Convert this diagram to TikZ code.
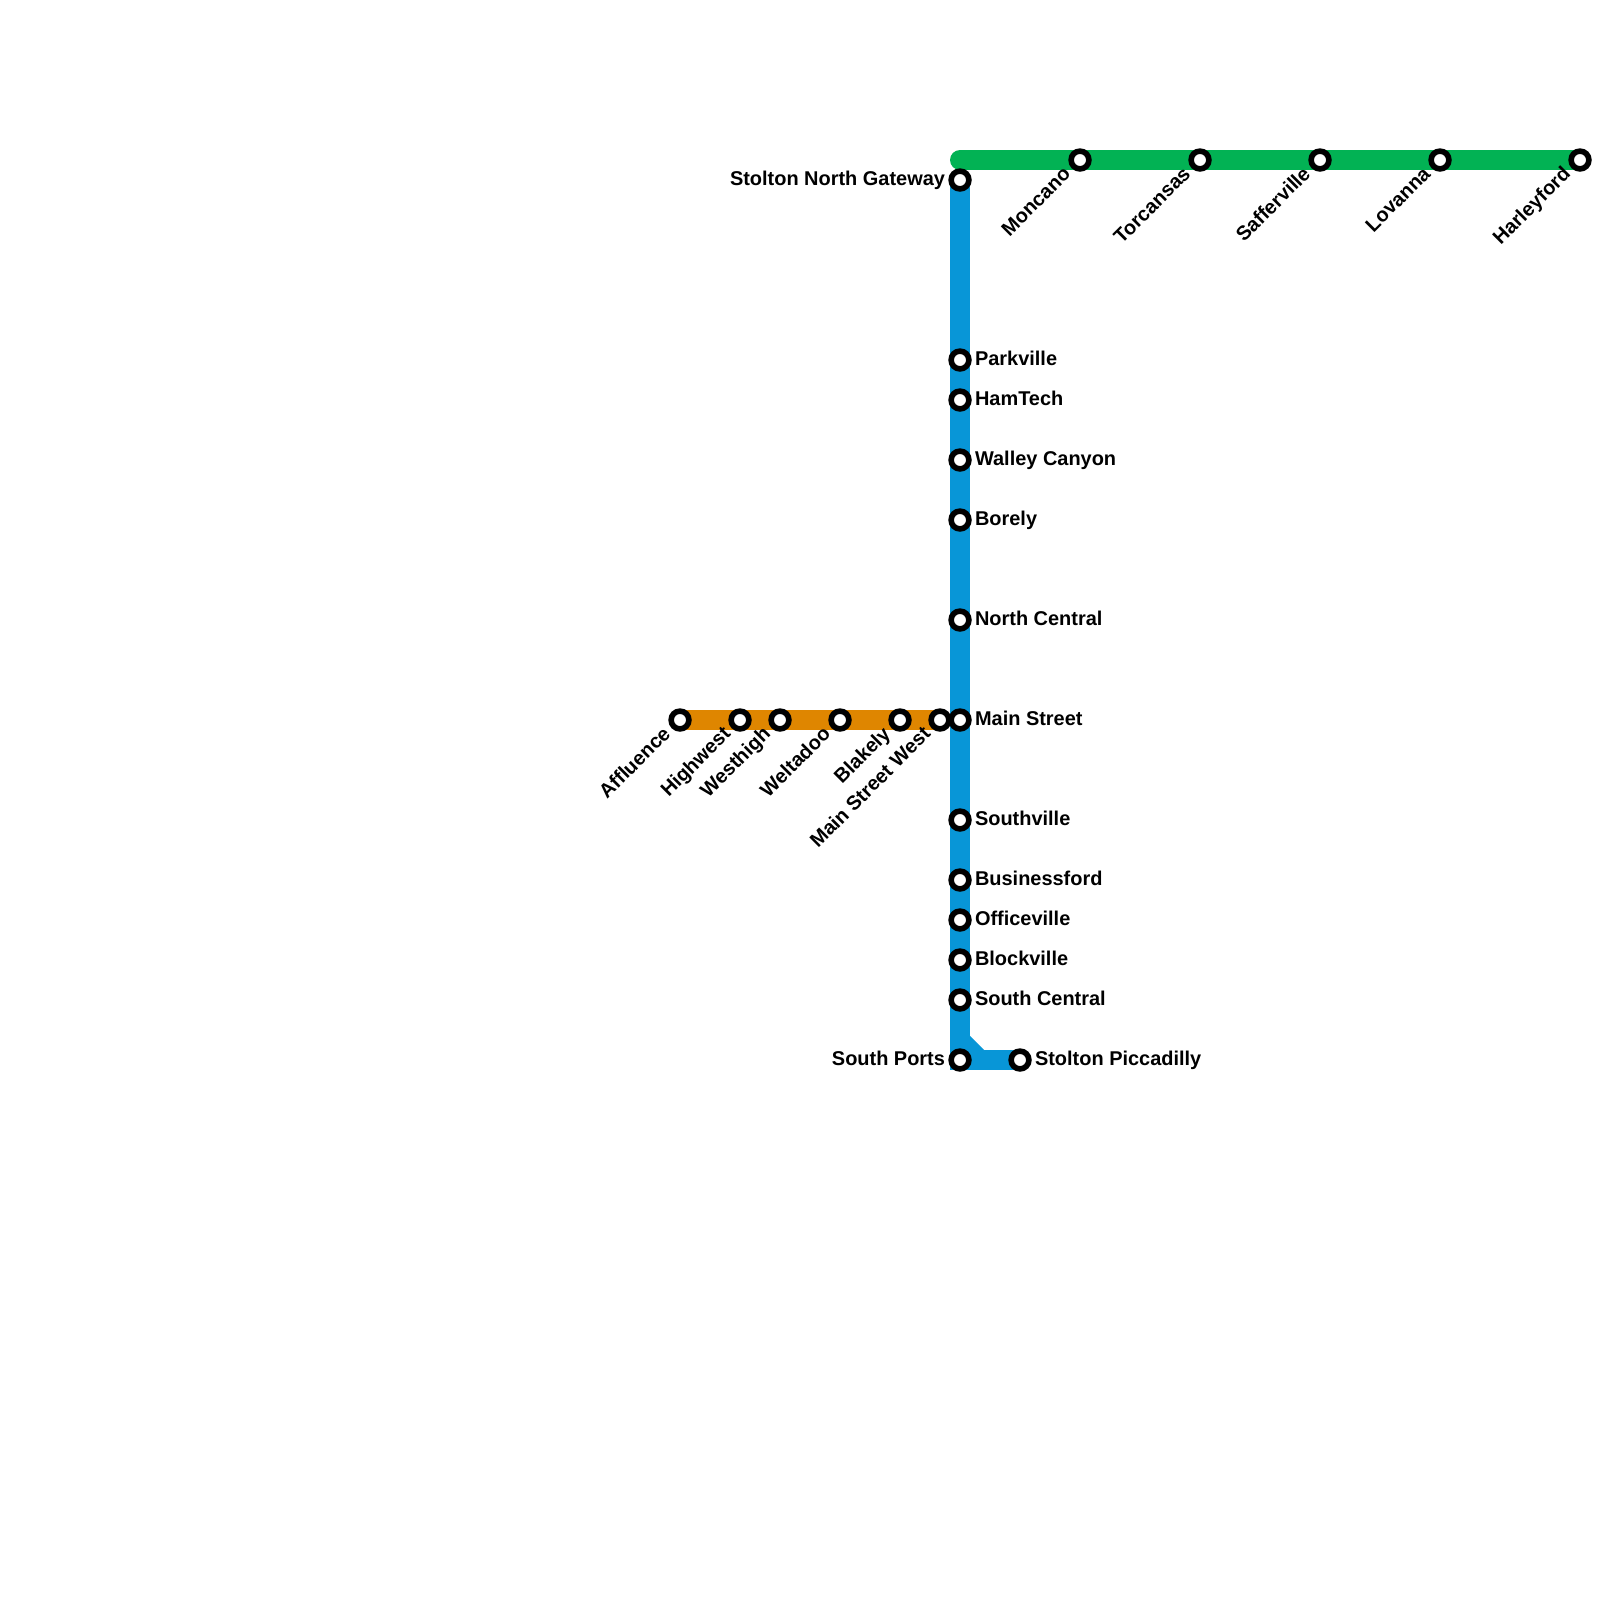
\documentclass[tikz,border=0pt]{standalone}
\usepackage{fontspec}
\setmainfont{Liberation Sans}
\usetikzlibrary{calc, positioning}
\definecolor{lineblue}{HTML}{0896D7}
\definecolor{linegreen}{HTML}{02B254}
\definecolor{lineorange}{HTML}{DF8600}
\pgfdeclarelayer{lines}
\pgfsetlayers{lines,main}
\tikzset{
  station/.style={circle, draw=black, fill=white, line width=0.112cm, minimum size=0.356cm, inner sep=0pt},
  stationname/.style={font=\bfseries\fontsize{11.35}{13}\selectfont, inner sep=0pt, text height=0.29cm, text depth=0.08cm},
  rightname/.style={stationname, anchor=west, xshift=0.06cm},
  leftname/.style={stationname, anchor=east, xshift=-0.06cm},
  slantname/.style={stationname, anchor=east, rotate=45, xshift=-0.095cm, yshift=0.01cm},
  metroline/.style={line width=0.4cm, miter limit=10}
}
\begin{document}
\begin{tikzpicture}[x=0.02cm, y=-0.02cm]
  \useasboundingbox (0,0) rectangle (1600,1600);
  \coordinate (greenstart) at (960,160);
  \coordinate (bendtop) at (960,1040);
  \coordinate (bendend) at (980,1060);

  % stations
  \node[station] (gateway) at (960,180) {};
  \node[station] (parkville) at (960,360) {};
  \node[station] (hamtech) at (960,400) {};
  \node[station] (walley) at (960,460) {};
  \node[station] (borely) at (960,520) {};
  \node[station] (northcentral) at (960,620) {};
  \node[station] (mainstreet) at (960,720) {};
  \node[station] (southville) at (960,820) {};
  \node[station] (businessford) at (960,880) {};
  \node[station] (officeville) at (960,920) {};
  \node[station] (blockville) at (960,960) {};
  \node[station] (southcentral) at (960,1000) {};
  \node[station] (southports) at (960,1060) {};
  \node[station] (piccadilly) at (1020,1060) {};
  \node[station] (moncano) at (1080,160) {};
  \node[station] (torcansas) at (1200,160) {};
  \node[station] (safferville) at (1320,160) {};
  \node[station] (lovanna) at (1440,160) {};
  \node[station] (harleyford) at (1580,160) {};
  \node[station] (affluence) at (680,720) {};
  \node[station] (highwest) at (740,720) {};
  \node[station] (westhigh) at (780,720) {};
  \node[station] (weltadoo) at (840,720) {};
  \node[station] (blakely) at (900,720) {};
  \node[station] (mainwest) at (940,720) {};

  % lines, kept behind the stations
  \begin{pgfonlayer}{lines}
    \draw[metroline, lineorange] (affluence.center) -- (mainwest.center);
    \draw[metroline, linegreen, line cap=round] (greenstart) -- (harleyford.center);
    \draw[metroline, lineblue] (gateway.center) -- (southports.center) -- (piccadilly.center);
    \draw[metroline, lineblue] (bendtop) -- (bendend);
  \end{pgfonlayer}

  % names
  \node[leftname, left=0cm of gateway] (gatewayname) {Stolton North Gateway};
  \node[leftname, left=0cm of southports] (southportsname) {South Ports};
  \node[rightname, right=0cm of parkville] (parkvillename) {Parkville};
  \node[rightname, right=0cm of hamtech] (hamtechname) {HamTech};
  \node[rightname, right=0cm of walley] (walleyname) {Walley Canyon};
  \node[rightname, right=0cm of borely] (borelyname) {Borely};
  \node[rightname, right=0cm of northcentral] (northcentralname) {North Central};
  \node[rightname, right=0cm of mainstreet] (mainstreetname) {Main Street};
  \node[rightname, right=0cm of southville] (southvillename) {Southville};
  \node[rightname, right=0cm of businessford] (businessfordname) {Businessford};
  \node[rightname, right=0cm of officeville] (officevillename) {Officeville};
  \node[rightname, right=0cm of blockville] (blockvillename) {Blockville};
  \node[rightname, right=0cm of southcentral] (southcentralname) {South Central};
  \node[rightname, right=0cm of piccadilly] (piccadillyname) {Stolton Piccadilly};
  \node[slantname] (moncanoname) at (moncano.south west) {Moncano};
  \node[slantname] (torcansasname) at (torcansas.south west) {Torcansas};
  \node[slantname] (saffervillename) at (safferville.south west) {Safferville};
  \node[slantname] (lovannaname) at (lovanna.south west) {Lovanna};
  \node[slantname] (harleyfordname) at (harleyford.south west) {Harleyford};
  \node[slantname] (affluencename) at (affluence.south west) {Affluence};
  \node[slantname] (highwestname) at (highwest.south west) {Highwest};
  \node[slantname] (westhighname) at (westhigh.south west) {Westhigh};
  \node[slantname] (weltadooname) at (weltadoo.south west) {Weltadoo};
  \node[slantname] (blakelyname) at (blakely.south west) {Blakely};
  \node[slantname] (mainwestname) at (mainwest.south west) {Main Street West};
\end{tikzpicture}
\end{document}
